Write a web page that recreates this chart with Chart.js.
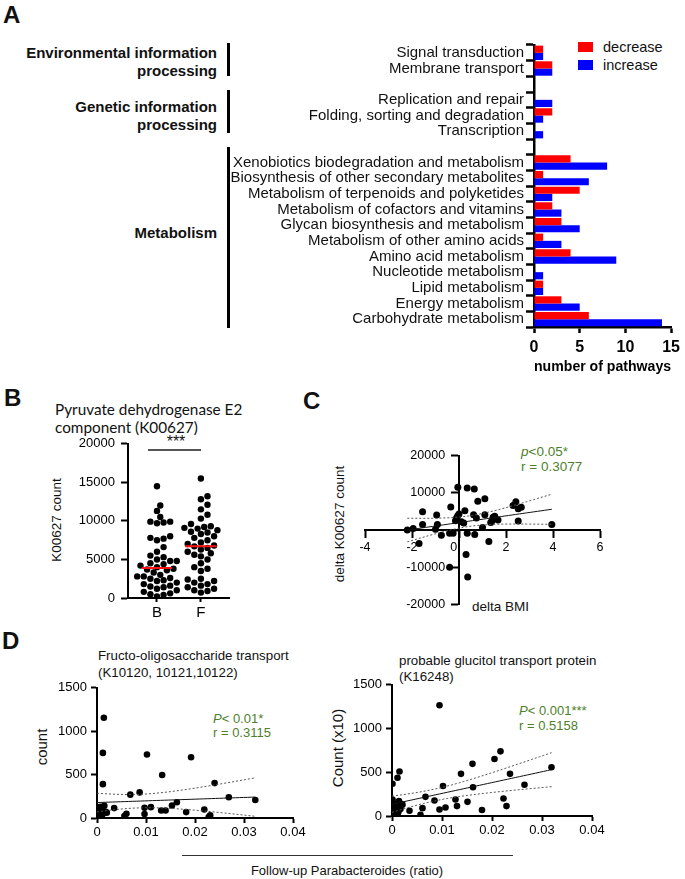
<!DOCTYPE html>
<html><head><meta charset="utf-8">
<script src="https://cdn.jsdelivr.net/npm/chart.js@4.4.0/dist/chart.umd.min.js"></script>
<style>
body{margin:0;background:#fff;}
#wrap{position:relative;width:685px;height:879px;font-family:"Liberation Sans",Arial,sans-serif;color:#111;overflow:hidden;background:#fff}
.t{position:absolute;white-space:nowrap;line-height:1}
.c{transform:translate(-50%,-50%)}
.l{transform:translate(0,-50%)}
.rot{transform:translate(-50%,-50%) rotate(-90deg)}
.b{font-weight:bold}
.g{color:#4e7f2b}
.panel{position:absolute;font-weight:bold;font-size:24px;line-height:1}
.bar{position:absolute;background:#000}
canvas{position:absolute}
</style></head><body><div id="wrap">

<div class="panel" style="left:3px;top:3px">A</div>
<div class="t b" style="right:468px;top:52px;transform:translateY(-50%);font-size:15px">Environmental information</div>
<div class="t b" style="right:468px;top:70px;transform:translateY(-50%);font-size:15px">processing</div>
<div class="t b" style="right:468px;top:106px;transform:translateY(-50%);font-size:15px">Genetic information</div>
<div class="t b" style="right:468px;top:124px;transform:translateY(-50%);font-size:15px">processing</div>
<div class="t b" style="right:468px;top:232px;transform:translateY(-50%);font-size:15px">Metabolism</div>
<div class="bar" style="left:227px;top:43px;width:2.5px;height:33px"></div>
<div class="bar" style="left:227px;top:90px;width:2.5px;height:43px"></div>
<div class="bar" style="left:227px;top:147px;width:2.5px;height:181px"></div>
<div style="position:absolute;left:578px;top:42px;width:15px;height:10px;background:#ff0000"></div>
<div class="t l" style="left:603px;top:47px;font-size:14.5px">decrease</div>
<div style="position:absolute;left:578px;top:60px;width:15px;height:10px;background:#0000ff"></div>
<div class="t l" style="left:603px;top:65px;font-size:14.5px">increase</div>
<canvas id="cA" width="465" height="350" style="left:220px;top:30px"></canvas>

<div class="panel" style="left:4px;top:386px">B</div>
<div class="t l" style="left:55px;top:410px;font-family:Lato,sans-serif;font-size:15.3px">Pyruvate dehydrogenase E2</div>
<div class="t l" style="left:55px;top:428px;font-family:Lato,sans-serif;font-size:15.3px">component (K00627)</div>
<div class="t c" style="left:176px;top:442px;font-size:16px">***</div>
<div style="position:absolute;left:148px;top:449px;width:53px;height:1.5px;background:#555"></div>
<div class="t rot" style="left:57px;top:520px;font-size:13.5px">K00627 count</div>
<canvas id="cB" width="190" height="190" style="left:50px;top:430px"></canvas>

<div class="panel" style="left:303px;top:389px">C</div>
<div class="t rot" style="left:340px;top:524px;font-size:13.5px">delta K00627 count</div>
<div class="t l" style="left:472px;top:607px;font-size:13.5px">delta BMI</div>
<div class="t l g" style="left:521px;top:452px;font-size:13.5px"><i>p</i>&lt;0.05*</div>
<div class="t l g" style="left:521px;top:467px;font-size:13.5px">r = 0.3077</div>
<canvas id="cC" width="290" height="180" style="left:330px;top:440px"></canvas>

<div class="panel" style="left:2px;top:629px">D</div>
<div class="t l" style="left:98px;top:656px;font-size:13.3px">Fructo-oligosaccharide transport</div>
<div class="t l" style="left:98px;top:673px;font-size:13.3px">(K10120, 10121,10122)</div>
<div class="t l g" style="left:213px;top:718px;font-size:13px"><i>P</i>&lt; 0.01*</div>
<div class="t l g" style="left:213px;top:732px;font-size:13px">r = 0.3115</div>
<div class="t rot" style="left:41px;top:747px;font-size:15px">count</div>
<canvas id="cD1" width="270" height="164" style="left:40px;top:676px"></canvas>

<div class="t l" style="left:399px;top:661px;font-size:13.3px">probable glucitol transport protein</div>
<div class="t l" style="left:399px;top:677px;font-size:13.3px">(K16248)</div>
<div class="t l g" style="left:519px;top:710px;font-size:13px"><i>P</i>&lt; 0.001***</div>
<div class="t l g" style="left:519px;top:725px;font-size:13px">r = 0.5158</div>
<div class="t rot" style="left:337px;top:748px;font-size:15px">Count (x10)</div>
<canvas id="cD2" width="280" height="167" style="left:335px;top:673px"></canvas>

<div style="position:absolute;left:182px;top:855px;width:331px;height:1px;background:#333"></div>
<div class="t c" style="left:347px;top:870px;font-size:13px">Follow-up Parabacteroides (ratio)</div>

</div>
<script>
// ---------- Panel A data ----------
const pathwayLabels = ['Signal transduction','Membrane transport','','Replication and repair','Folding, sorting and degradation','Transcription','','Xenobiotics biodegradation and metabolism','Biosynthesis of other secondary metabolites','Metabolism of terpenoids and polyketides','Metabolism of cofactors and vitamins','Glycan biosynthesis and metabolism','Metabolism of other amino acids','Amino acid metabolism','Nucleotide metabolism','Lipid metabolism','Energy metabolism','Carbohydrate metabolism'];
const decreaseCounts = [1,2,null,0,2,0,null,4,1,5,2,3,1,4,0,1,3,6];
const increaseCounts = [1,2,null,2,1,1,null,8,6,2,3,5,3,9,1,1,5,14];
const pathwayTicks = [0,5,10,15];

// ---------- Panel B data ----------
const groupLabels = ['B','F'];
const baselineK00627 = [14500,12000,11300,10500,9900,9900,9800,9700,8000,7800,7700,7500,6600,6000,5500,5300,5000,4800,4800,4500,4400,4200,4000,3800,3700,3600,3300,3000,2800,2800,2600,2500,2300,2200,2000,1800,1600,1500,1400,1200,1000,800,600,500,400,200];
const followupK00627 = [15500,13200,12800,12100,11500,10800,10300,9600,9300,9200,9100,9000,8800,8600,8500,8300,8000,7800,7500,7200,7000,6800,6700,6500,6300,6000,5800,5600,5400,5000,4500,4000,3800,3500,2500,2400,2200,2000,1800,1600,1400,1200,1000,900,700];
const kTicks = [0,5000,10000,15000,20000];

// ---------- Panel C data ----------
const deltaBMI = [-2.2,-1.95,-1.7,-1.55,-1.55,-0.95,-0.92,-1.0,-0.75,-0.4,-0.25,-0.35,-0.05,0.35,0.65,0.8,1.1,0.0,-0.1,0.1,-0.15,0.25,0.2,0.35,0.67,0.62,0.74,1.0,1.1,1.27,1.35,1.45,1.52,1.66,0.3,0.37,-0.4,2.3,2.42,2.52,2.65,2.52,3.95,1.4,-0.05];
const deltaK00627 = [0,400,-3600,1500,4900,4000,1500,200,-1400,-900,-900,6200,11500,11300,11000,7700,8400,4300,3300,2200,2500,5200,1900,-900,-1200,4100,3200,700,4100,-3100,2000,3400,3700,2700,-6600,-12600,-10000,6600,7600,5700,6100,2400,1500,2400,3800];
const bmiTicks = [-4,-2,0,2,4,6];
const deltaTicks = [-20000,-10000,0,10000,20000];

// ---------- Panel D data ----------
const fosRatio = [0.0014,0.0012,0.0012,0.0102,0.0133,0.0192,0.0068,0.0087,0.024,0.0269,0.0323,0.0035,0.0097,0.011,0.0097,0.006,0.0056,0.0131,0.014,0.0153,0.0163,0.0182,0.0219,0.0231,0.0228,0,0.0003,0.0005,0.0008,0.001,0.0012,0.0015,0.0018,0.0002,0.0006,0.0009,0.002,0.0004,0.0011,0.0001,0.0007];
const fosCount = [1155,750,390,731,496,700,269,295,402,239,208,114,117,125,45,49,23,87,87,144,182,68,98,30,11,120,80,50,20,100,60,140,70,30,100,10,60,90,40,60,130];
const glucRatio = [0.0095,0.0217,0.0205,0.0161,0.0319,0.0015,0.0011,0.0001,0.0138,0.0236,0.0102,0.0162,0.0265,0.0067,0.0001,0.0085,0.0127,0.0223,0.0151,0.0061,0.0035,0.0095,0.0107,0.013,0.018,0.0229,0.0057,0.0002,0.0004,0.0006,0.0008,0.001,0.0012,0.0014,0.0016,0.0018,0.0003,0.0005,0.0009,0.0013,0.0017,0.0021,0,0.0011];
const glucCount = [1266,739,652,596,558,509,437,369,482,482,343,328,358,219,188,177,188,200,162,90,60,75,98,113,68,113,15,100,60,130,90,40,150,170,120,140,20,110,70,50,80,130,60,20];
const countTicks = [0,500,1000,1500];
const ratioTicks = [0,0.01,0.02,0.03,0.04];

// ---------- helpers ----------
Chart.defaults.font.family = '"Liberation Sans", Arial, sans-serif';
Chart.defaults.color = '#000';
const noPlug = {legend:{display:false}, tooltip:{enabled:false}};
const T95 = 2.01;

function median(a){const s=a.slice().sort((x,y)=>x-y);const n=s.length;return n%2?s[(n-1)/2]:(s[n/2-1]+s[n/2])/2;}
function swarm(values, center, xUnitsPerPx, yPxPerUnit, diam){
  const placed=[]; const out=[];
  values.slice().sort((a,b)=>a-b).forEach(v=>{
    const py=v*yPxPerUnit;
    for(let i=0;i<60;i++){
      const off=(i===0?0:(i%2?1:-1)*Math.ceil(i/2)*diam*0.5);
      let ok=true;
      for(const p of placed){const dx=p[0]-off, dy=p[1]-py; if(dx*dx+dy*dy<diam*diam*0.92){ok=false;break;}}
      if(ok){placed.push([off,py]);out.push({x:center+off*xUnitsPerPx,y:v});break;}
    }
  });
  return out;
}
function regression(xs, ys, steps){
  const n=xs.length; const mx=xs.reduce((a,b)=>a+b,0)/n, my=ys.reduce((a,b)=>a+b,0)/n;
  let sxx=0,sxy=0; for(let i=0;i<n;i++){sxx+=(xs[i]-mx)**2; sxy+=(xs[i]-mx)*(ys[i]-my);}
  const b=sxy/sxx, a=my-b*mx; let sse=0; for(let i=0;i<n;i++){sse+=(ys[i]-a-b*xs[i])**2;}
  const s=Math.sqrt(sse/(n-2)); const lo=Math.min(...xs), hi=Math.max(...xs);
  const fit=[],up=[],dn=[];
  for(let i=0;i<=steps;i++){const x=lo+(hi-lo)*i/steps; const yh=a+b*x; const h=T95*s*Math.sqrt(1/n+(x-mx)**2/sxx); fit.push({x,y:yh}); up.push({x,y:yh+h}); dn.push({x,y:yh-h});}
  return {fit,up,dn};
}
function pts(xs,ys){return xs.map((x,i)=>({x,y:ys[i]}));}
function regSets(xs,ys){
  const r=regression(xs,ys,40);
  const base={type:'line',pointRadius:0,fill:false,tension:0,order:0};
  return [
    Object.assign({data:r.fit,borderColor:'#111',borderWidth:1},base),
    Object.assign({data:r.up,borderColor:'#555',borderWidth:1,borderDash:[2,2]},base),
    Object.assign({data:r.dn,borderColor:'#555',borderWidth:1,borderDash:[2,2]},base)
  ];
}
function fixTicks(arr){return s=>{s.ticks=arr.map(v=>({value:v}));};}
const plain = v=>String(v);

// ---------- Panel A ----------
new Chart(document.getElementById('cA'),{
  type:'bar',
  data:{labels:pathwayLabels,datasets:[
    {label:'decrease',data:decreaseCounts,backgroundColor:'#ff0000',borderWidth:0,barPercentage:1,categoryPercentage:0.92},
    {label:'increase',data:increaseCounts,backgroundColor:'#0000ff',borderWidth:0,barPercentage:1,categoryPercentage:0.92}
  ]},
  options:{indexAxis:'y',responsive:false,animation:false,
    layout:{padding:{top:15,right:10,left:0,bottom:0}},
    plugins:noPlug,
    scales:{
      x:{min:0,max:15,afterBuildTicks:fixTicks(pathwayTicks),
        grid:{drawOnChartArea:false,tickLength:6,tickWidth:2.5,tickColor:'#000'},
        border:{color:'#000',width:2.5},
        ticks:{font:{size:16,weight:'bold'},color:'#000',padding:5},
        title:{display:true,text:'number of pathways',font:{size:15,weight:'bold'},color:'#000',padding:{top:0,bottom:4}},
        afterFit:s=>{s.height=53;}},
      y:{grid:{drawOnChartArea:false,tickLength:8,tickWidth:2.5,tickColor:'#000'},
        border:{color:'#000',width:2.5},
        ticks:{font:{size:15},color:'#111',padding:2,autoSkip:false},
        afterFit:s=>{s.width=314;}}
    }}
});

// ---------- Panel B ----------
const bXmin=0.34,bXmax=2.64,bPx=101,bYpx=157/20000;
const swB=swarm(baselineK00627,1,(bXmax-bXmin)/bPx,bYpx,6.6);
const swF=swarm(followupK00627,2,(bXmax-bXmin)/bPx,bYpx,6.6);
const medB=median(baselineK00627), medF=median(followupK00627);
new Chart(document.getElementById('cB'),{
  type:'scatter',
  data:{datasets:[
    {data:swB,backgroundColor:'#000',borderWidth:0,pointRadius:3.2,order:2},
    {data:swF,backgroundColor:'#000',borderWidth:0,pointRadius:3.2,order:2},
    {type:'line',data:[{x:1-0.34,y:medB},{x:1+0.34,y:medB}],borderColor:'#ff1010',borderWidth:2,pointRadius:0,order:0},
    {type:'line',data:[{x:2-0.36,y:medF},{x:2+0.36,y:medF}],borderColor:'#ff1010',borderWidth:2,pointRadius:0,order:0}
  ]},
  options:{responsive:false,animation:false,plugins:noPlug,
    layout:{padding:{top:11,right:11,left:0,bottom:0}},
    scales:{
      x:{type:'linear',min:bXmin,max:bXmax,afterBuildTicks:fixTicks([1,2]),
        ticks:{callback:v=>groupLabels[v-1],font:{size:15},color:'#000',padding:2},
        grid:{drawOnChartArea:false,tickLength:4,tickWidth:2,tickColor:'#000'},
        border:{color:'#000',width:2},afterFit:s=>{s.height=22;}},
      y:{type:'linear',min:0,max:20000,afterBuildTicks:fixTicks(kTicks),
        ticks:{callback:plain,font:{size:13},color:'#000',padding:6},
        grid:{drawOnChartArea:false,tickLength:7,tickWidth:2,tickColor:'#000'},
        border:{color:'#000',width:2},afterFit:s=>{s.width=78;}}
    }}
});

// ---------- Panel C ----------
new Chart(document.getElementById('cC'),{
  type:'scatter',
  data:{datasets:[
    {data:pts(deltaBMI,deltaK00627),backgroundColor:'#000',borderWidth:0,pointRadius:3.5,order:2}
  ].concat(regSets(deltaBMI,deltaK00627))},
  options:{responsive:false,animation:false,plugins:noPlug,
    layout:{padding:{top:11,right:20,left:35,bottom:12}},
    scales:{
      x:{type:'linear',min:-4,max:6,position:{y:0},afterBuildTicks:fixTicks(bmiTicks),
        ticks:{callback:v=>v===0?'0   ':String(v),font:{size:12.5},color:'#000',padding:3},
        grid:{drawOnChartArea:false,tickLength:7,tickWidth:2,tickColor:'#000'},
        border:{color:'#000',width:2},afterFit:s=>{s.height=0;}},
      y:{type:'linear',min:-20000,max:20000,position:{x:0},afterBuildTicks:fixTicks(deltaTicks),
        ticks:{callback:v=>v===0?'':String(v)+'    ',font:{size:12.5},color:'#000',padding:8},
        grid:{drawOnChartArea:false,tickLength:7,tickWidth:2,tickColor:'#000'},
        border:{color:'#000',width:2},afterFit:s=>{s.width=0;}}
    }}
});

// ---------- Panel D ----------
function dChart(id,xs,ys,pad,xh){
  new Chart(document.getElementById(id),{
    type:'scatter',
    data:{datasets:[
      {data:pts(xs,ys),backgroundColor:'#000',borderWidth:0,pointRadius:3.3,order:2}
    ].concat(regSets(xs,ys))},
    options:{responsive:false,animation:false,plugins:noPlug,
      layout:{padding:pad},
      scales:{
        x:{type:'linear',min:0,max:0.04,afterBuildTicks:fixTicks(ratioTicks),
          ticks:{callback:v=>v===0?'0':v.toFixed(2),font:{size:13},color:'#000',padding:2},
          grid:{drawOnChartArea:false,tickLength:5,tickWidth:2,tickColor:'#000'},
          border:{color:'#000',width:2},afterFit:s=>{s.height=xh;}},
        y:{type:'linear',min:0,max:1500,afterBuildTicks:fixTicks(countTicks),
          ticks:{callback:plain,font:{size:13},color:'#000',padding:4},
          grid:{drawOnChartArea:false,tickLength:6,tickWidth:2,tickColor:'#000'},
          border:{color:'#000',width:2},afterFit:s=>{s.width=57;}}
      }}
  });
}
dChart('cD1',fosRatio,fosCount,{top:10,right:17,left:0,bottom:0},22);
dChart('cD2',glucRatio,glucCount,{top:10,right:23,left:0,bottom:0},24);
</script>
</body></html>
